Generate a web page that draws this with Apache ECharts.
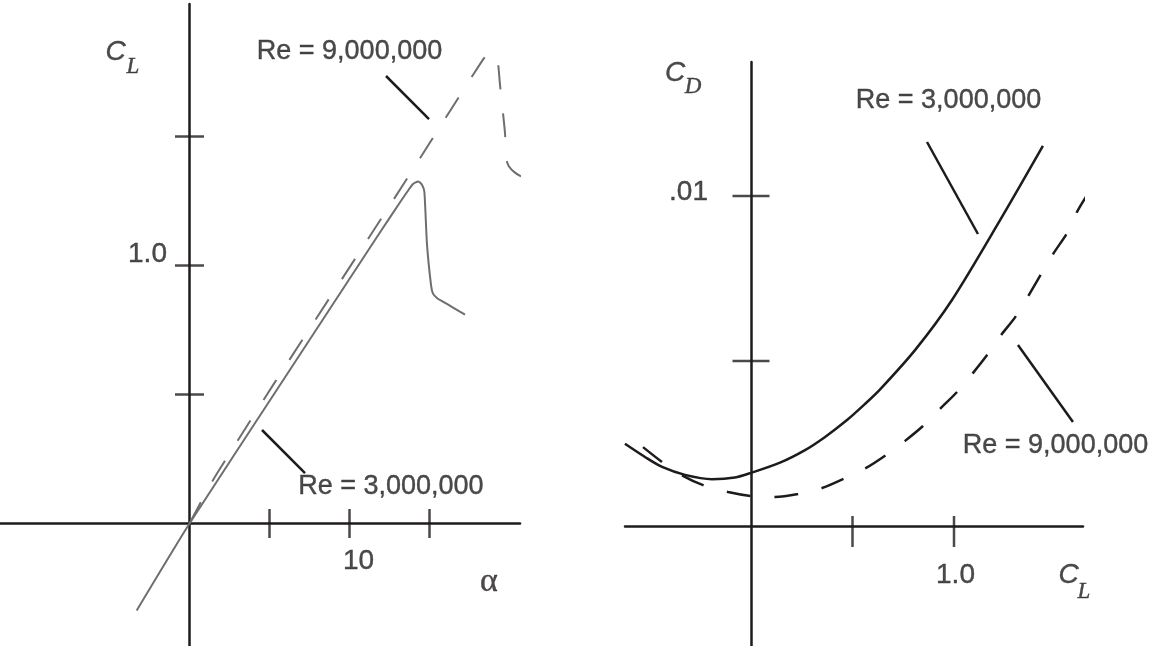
<!DOCTYPE html>
<html>
<head>
<meta charset="utf-8">
<script src="https://cdn.jsdelivr.net/npm/echarts@6/dist/echarts.min.js"></script>
<style>
  html, body { margin: 0; padding: 0; background: #ffffff; }
  #chart { width: 1150px; height: 646px; }
</style>
</head>
<body>
<div id="chart"></div>
<script>
// Section lift coefficient C_L against angle of attack α (degrees)
const liftRe3M = [
  [-3.3, -0.337], [0, 0], [5.84, 0.554], [11.9, 1.128], [13.16, 1.245],
  [13.6, 1.285], [13.97, 1.316], [14.3, 1.326], [14.53, 1.313], [14.68, 1.285],
  [14.84, 1.085], [15.1, 0.922], [15.22, 0.891], [15.5, 0.872], [15.78, 0.862],
  [16.5, 0.836], [17.22, 0.81]
];
const liftRe9M = [
  [0, 0], [1.39, 0.16], [2.95, 0.315], [5.34, 0.548], [12.72, 1.252],
  [14.4, 1.415], [18.34, 1.798], [18.78, 1.826], [19.16, 1.81], [19.28, 1.787],
  [19.41, 1.698], [19.72, 1.512], [19.78, 1.415], [19.97, 1.384], [20.34, 1.36],
  [20.72, 1.345]
];

// Section drag coefficient C_D against lift coefficient C_L
const dragRe3M = [
  [-0.621, 0.00249], [-0.522, 0.00209], [-0.438, 0.00179], [-0.325, 0.00155],
  [-0.192, 0.00142], [-0.079, 0.00147], [0.0, 0.00161], [0.143, 0.00192],
  [0.266, 0.00230], [0.365, 0.00270], [0.473, 0.00321], [0.562, 0.00370],
  [0.636, 0.00414], [0.808, 0.00533], [0.990, 0.00685], [1.227, 0.00927],
  [1.438, 0.01152]
];
const dragRe9M = [
  [-0.532, 0.00239], [-0.438, 0.00194], [-0.335, 0.00152], [-0.236, 0.00124],
  [-0.113, 0.00103], [0.0, 0.00091], [0.118, 0.00088], [0.232, 0.00097],
  [0.35, 0.00115], [0.453, 0.00142], [0.567, 0.00176], [0.665, 0.00215],
  [0.759, 0.00258], [0.847, 0.00303], [0.936, 0.00358], [1.015, 0.00406],
  [1.094, 0.00464], [1.163, 0.00518], [1.236, 0.00582], [1.305, 0.00636],
  [1.488, 0.00824], [1.557, 0.00888], [1.606, 0.00952], [1.665, 0.01012]
];

// Tick values and their printed labels
const alphaTicks = [5, 10, 15];
const alphaTickLabels = ['', '10', ''];
const liftTicks = [0.5, 1.0, 1.5];
const liftTickLabels = ['', '1.0', ''];
const polarLiftTicks = [0.5, 1.0];
const polarLiftTickLabels = ['', '1.0'];
const dragTicks = [0.005, 0.01];
const dragTickLabels = ['', '.01'];

// Curve call-outs: text anchor and leader line, in data units
const liftNotes = [
  { text: 'Re = 9,000,000', at: [10.0, 1.8275], leader: [[12.28, 1.7345], [14.97, 1.5678]] },
  { text: 'Re = 3,000,000', at: [12.59, 0.1415], leader: [[4.53, 0.3624], [7.22, 0.1957]] }
];
const dragNotes = [
  { text: 'Re = 3,000,000', at: [0.973, 0.012879], leader: [[0.867, 0.011636], [1.118, 0.008848]] },
  { text: 'Re = 9,000,000', at: [1.5, 0.00244], leader: [[1.315, 0.005485], [1.586, 0.003152]] }
];

// Axis titles: main letter and subscript anchors, in data units
const liftTitles = [
  { main: 'C', sub: 'L', at: [-4.625, 1.8275], subAt: [-3.53, 1.7713] },
  { greek: 'α', at: [18.72, -0.228] }
];
const dragTitles = [
  { main: 'C', sub: 'D', at: [-0.3744, 0.013727], subAt: [-0.2857, 0.013303] },
  { main: 'C', sub: 'L', at: [1.564, -0.0015], subAt: [1.64, -0.001985] }
];

const INK = '#1f1b1c';
const GREY = '#6e6e70';
const SANS = '"Liberation Sans", Arial, Helvetica, sans-serif';
const SERIF = '"Liberation Serif", "Times New Roman", serif';
// a hairline outline in the ink colour gives the text a slightly heavier print
const INKED = { color: INK, textBorderColor: INK, textBorderWidth: 0.4 };

function axisPair(gridIndex, xr, yr) {
  const common = {
    type: 'value', gridIndex: gridIndex,
    axisLine: { show: true, onZero: true, lineStyle: { color: INK, width: 2.5 } },
    axisTick: { show: false }, axisLabel: { show: false }, splitLine: { show: false }
  };
  return [
    Object.assign({}, common, { min: xr[0], max: xr[1] }),
    Object.assign({}, common, { min: yr[0], max: yr[1] })
  ];
}

const [ax0, ay0] = axisPair(0, [-11.84375, 20.65625], [-0.4748, 2.0136]);
const [ax1, ay1] = axisPair(1, [-0.62069, 1.63547], [-0.0036364, 0.0140606]);

function ticks(idx, pts, size, offset) {
  return {
    type: 'scatter', xAxisIndex: idx, yAxisIndex: idx, clip: false, silent: true,
    symbol: 'rect', symbolSize: size, symbolOffset: offset || [0, 0],
    itemStyle: { color: INK }, z: 3,
    data: pts
  };
}

function textLabel(extra) {
  return Object.assign({ show: true, position: 'inside', formatter: p => p.name }, INKED, extra);
}

function tickText(idx, pts, labels, offset) {
  return {
    type: 'scatter', xAxisIndex: idx, yAxisIndex: idx, clip: false, silent: true,
    symbolSize: 0, z: 4,
    label: textLabel({ offset: offset, fontFamily: SANS, fontSize: 28 }),
    data: pts.map((v, i) => ({ name: labels[i], value: v }))
  };
}

function notes(idx, list) {
  const out = [{
    type: 'scatter', xAxisIndex: idx, yAxisIndex: idx, clip: false, silent: true,
    symbolSize: 0, z: 4,
    label: textLabel({ fontFamily: SANS, fontSize: 27 }),
    data: list.map(n => ({ name: n.text, value: n.at }))
  }];
  list.forEach(n => out.push({
    type: 'line', xAxisIndex: idx, yAxisIndex: idx, clip: false, silent: true,
    symbol: 'none', lineStyle: { color: INK, width: 2.5 }, data: n.leader, z: 3
  }));
  return out;
}

function titles(idx, list) {
  const mains = [], subs = [], greek = [];
  list.forEach(t => {
    if (t.greek) { greek.push({ name: t.greek, value: t.at }); return; }
    mains.push({ name: t.main, value: t.at });
    subs.push({ name: t.sub, value: t.subAt });
  });
  const base = {
    type: 'scatter', xAxisIndex: idx, yAxisIndex: idx, clip: false, silent: true,
    symbolSize: 0, z: 4
  };
  const out = [
    Object.assign({}, base, {
      label: textLabel({ fontFamily: SANS, fontStyle: 'italic', fontSize: 28 }),
      data: mains
    }),
    Object.assign({}, base, {
      label: textLabel({ fontFamily: SERIF, fontStyle: 'italic', fontSize: 23 }),
      data: subs
    })
  ];
  if (greek.length) {
    out.push(Object.assign({}, base, {
      label: textLabel({ fontFamily: SERIF, fontSize: 34 }),
      data: greek
    }));
  }
  return out;
}

const series = [
  // lift curves
  { type: 'line', xAxisIndex: 0, yAxisIndex: 0, data: liftRe3M, symbol: 'none', smooth: 0.2, clip: false,
    lineStyle: { color: GREY, width: 2 }, z: 2 },
  { type: 'line', xAxisIndex: 0, yAxisIndex: 0, data: liftRe9M, symbol: 'none', smooth: 0.2, clip: false,
    lineStyle: { color: GREY, width: 2, type: [24, 24] }, z: 2 },
  // drag polars
  { type: 'line', xAxisIndex: 1, yAxisIndex: 1, data: dragRe3M, symbol: 'none', smooth: 0.3, clip: false,
    lineStyle: { color: INK, width: 2.5 }, z: 2 },
  { type: 'line', xAxisIndex: 1, yAxisIndex: 1, data: dragRe9M, symbol: 'none', smooth: 0.3, clip: false,
    lineStyle: { color: INK, width: 2.5, type: [24, 24] }, z: 2 },

  // tick marks crossing the axes
  ticks(0, alphaTicks.map(v => [v, 0]), [2.5, 29]),
  ticks(0, liftTicks.map(v => [0, v]), [29, 2.5]),
  ticks(1, polarLiftTicks.map(v => [v, 0]), [2.5, 31], [0, 5.5]),
  ticks(1, dragTicks.map(v => [0, v]), [37, 2.5]),

  // tick labels
  tickText(0, alphaTicks.map(v => [v, 0]), alphaTickLabels, [9, 37.5]),
  tickText(0, liftTicks.map(v => [0, v]), liftTickLabels, [-42, -11.5]),
  tickText(1, polarLiftTicks.map(v => [v, 0]), polarLiftTickLabels, [1.5, 49.5]),
  tickText(1, dragTicks.map(v => [0, v]), dragTickLabels, [-62.5, -4])
]
  .concat(notes(0, liftNotes))
  .concat(notes(1, dragNotes))
  .concat(titles(0, liftTitles))
  .concat(titles(1, dragTitles));

const chart = echarts.init(document.getElementById('chart'), null, { renderer: 'canvas' });
chart.setOption({
  backgroundColor: '#ffffff',
  animation: false,
  grid: [
    { left: 0, top: 4, width: 520, height: 642 },
    { left: 625, top: 62, width: 458, height: 584 }
  ],
  xAxis: [ax0, ax1],
  yAxis: [ay0, ay1],
  series: series
});
</script>
</body>
</html>
